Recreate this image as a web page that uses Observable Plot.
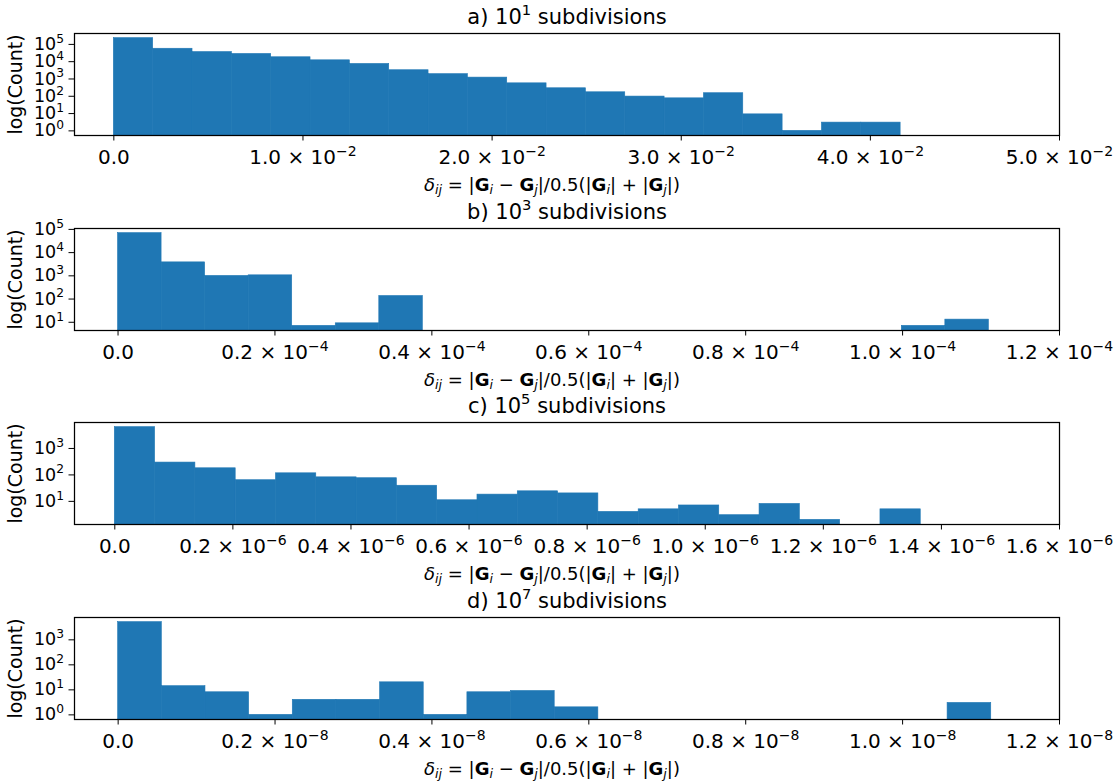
<!DOCTYPE html>
<html>
<head>
<meta charset="utf-8">
<script src="https://cdn.jsdelivr.net/npm/d3@7"></script>
<script src="https://cdn.jsdelivr.net/npm/@observablehq/plot@0.6"></script>
<style>
  body { margin: 0; background: white; }
  #chart { position: relative; width: 1119px; height: 784px; background: white; }
  #chart > div { position: absolute; left: 0; }
</style>
</head>
<body>
<div id="chart"></div>
<script>
// Histograms of the relative deviation delta_ij for four subdivision levels.
// Each histogram has 20 equal bins from 0 to its upper range value.
const panelTitles = [
  "a) 10^{1} subdivisions",
  "b) 10^{3} subdivisions",
  "c) 10^{5} subdivisions",
  "d) 10^{7} subdivisions"
];

const binUpper = [0.0416, 1.11e-4, 1.365e-6, 1.113e-8];

const countsA = [230000, 56000, 36000, 28000, 18000, 12000, 7400, 3200, 1900, 1200,
                 560, 290, 170, 96, 76, 150, 9, 1, 3, 3];
const countsB = [69000, 3800, 990, 1050, 7, 9, 135, 0, 0, 0,
                 0, 0, 0, 0, 0, 0, 0, 0, 7, 13];
const countsC = [6400, 293, 178, 63, 115, 81, 75, 39, 11, 18,
                 24, 20, 4, 5, 7, 3, 8, 2, 0, 5];
const countsD = [5100, 14, 8, 1, 4, 4, 20, 1, 8, 9,
                 2, 0, 0, 0, 0, 0, 0, 0, 0, 3];

const xTicksA = [0, 0.01, 0.02, 0.03, 0.04, 0.05];
const xTickLabelsA = ["0.0", "1.0 × 10^{−2}", "2.0 × 10^{−2}", "3.0 × 10^{−2}", "4.0 × 10^{−2}", "5.0 × 10^{−2}"];
const xTicksB = [0, 0.2e-4, 0.4e-4, 0.6e-4, 0.8e-4, 1.0e-4, 1.2e-4];
const xTickLabelsB = ["0.0", "0.2 × 10^{−4}", "0.4 × 10^{−4}", "0.6 × 10^{−4}", "0.8 × 10^{−4}", "1.0 × 10^{−4}", "1.2 × 10^{−4}"];
const xTicksC = [0, 0.2e-6, 0.4e-6, 0.6e-6, 0.8e-6, 1.0e-6, 1.2e-6, 1.4e-6, 1.6e-6];
const xTickLabelsC = ["0.0", "0.2 × 10^{−6}", "0.4 × 10^{−6}", "0.6 × 10^{−6}", "0.8 × 10^{−6}", "1.0 × 10^{−6}", "1.2 × 10^{−6}", "1.4 × 10^{−6}", "1.6 × 10^{−6}"];
const xTicksD = [0, 0.2e-8, 0.4e-8, 0.6e-8, 0.8e-8, 1.0e-8, 1.2e-8];
const xTickLabelsD = ["0.0", "0.2 × 10^{−8}", "0.4 × 10^{−8}", "0.6 × 10^{−8}", "0.8 × 10^{−8}", "1.0 × 10^{−8}", "1.2 × 10^{−8}"];

const yTicksA = [1, 10, 100, 1e3, 1e4, 1e5];
const yTickLabelsA = ["10^{0}", "10^{1}", "10^{2}", "10^{3}", "10^{4}", "10^{5}"];
const yTicksB = [10, 100, 1e3, 1e4, 1e5];
const yTickLabelsB = ["10^{1}", "10^{2}", "10^{3}", "10^{4}", "10^{5}"];
const yTicksC = [10, 100, 1e3];
const yTickLabelsC = ["10^{1}", "10^{2}", "10^{3}"];
const yTicksD = [1, 10, 100, 1e3];
const yTickLabelsD = ["10^{0}", "10^{1}", "10^{2}", "10^{3}"];

const yLabel = "log(Count)";

// x label: δ_ij = |G_i − G_j| / 0.5(|G_i| + |G_j|)
const xLabelParts = [
  {t: "δ", it: true}, {t: "ij", it: true, sub: true},
  {t: " = |"}, {t: "G", bf: true}, {t: "i", it: true, sub: true},
  {t: " − "}, {t: "G", bf: true}, {t: "j", it: true, sub: true},
  {t: "|/0.5(|"}, {t: "G", bf: true}, {t: "i", it: true, sub: true},
  {t: "| + |"}, {t: "G", bf: true}, {t: "j", it: true, sub: true},
  {t: "|)"}
];
const xLabelPlain = xLabelParts.map(p => p.t).join("");

const panels = [
  {title: panelTitles[0], counts: countsA, upper: binUpper[0], xt: xTicksA, xl: xTickLabelsA, yt: yTicksA, yl: yTickLabelsA},
  {title: panelTitles[1], counts: countsB, upper: binUpper[1], xt: xTicksB, xl: xTickLabelsB, yt: yTicksB, yl: yTickLabelsB},
  {title: panelTitles[2], counts: countsC, upper: binUpper[2], xt: xTicksC, xl: xTickLabelsC, yt: yTicksC, yl: yTickLabelsC},
  {title: panelTitles[3], counts: countsD, upper: binUpper[3], xt: xTicksD, xl: xTickLabelsD, yt: yTicksD, yl: yTickLabelsD}
];

const panelTops = [0, 195, 389, 584];
const blue = "#1f77b4";

// Turn "^{..}" markup into superscript tspans, and the x label into styled tspans.
function richText(svg) {
  d3.select(svg).selectAll("text").each(function () {
    const s = this.textContent;
    const el = d3.select(this);
    if (s === xLabelPlain) {
      el.text("");
      let shift = 0;
      for (const p of xLabelParts) {
        const ts = el.append("tspan").text(p.t);
        if (p.it) ts.attr("font-style", "italic");
        if (p.bf) ts.attr("font-weight", "bold");
        if (p.sub) {
          if (!shift) ts.attr("dy", "0.25em");
          ts.style("font-size", "0.7em");
          shift = 0.175;
        } else if (shift) {
          ts.attr("dy", `${-shift}em`);
          shift = 0;
        }
      }
    } else if (s.includes("^{")) {
      el.text("");
      const re = /\^\{([^}]*)\}/g;
      let last = 0, m, raised = false;
      while ((m = re.exec(s)) !== null) {
        if (m.index > last) {
          const ts = el.append("tspan").text(s.slice(last, m.index));
          if (raised) { ts.attr("dy", "0.42em"); raised = false; }
        }
        el.append("tspan").text(m[1]).style("font-size", "0.7em").attr("dy", "-0.6em");
        raised = true;
        last = re.lastIndex;
      }
      if (last < s.length) {
        const ts = el.append("tspan").text(s.slice(last));
        if (raised) ts.attr("dy", "0.42em");
      }
    }
  });
}

function drawPanel(p) {
  const n = p.counts.length;
  const bins = p.counts
    .map((c, i) => ({x1: i * p.upper / n, x2: (i + 1) * p.upper / n, count: c}))
    .filter(d => d.count > 0);
  const positive = p.counts.filter(c => c > 0);
  const lo = Math.log10(d3.min(positive));
  const hi = Math.log10(d3.max(positive));
  const pad = 0.05 * (hi - lo);
  const yDomain = [10 ** (lo - pad), 10 ** (hi + pad)];
  const xDomain = [-0.05 * p.upper, p.xt[p.xt.length - 1]];
  const xFmt = new Map(p.xt.map((t, i) => [t, p.xl[i]]));
  const yFmt = new Map(p.yt.map((t, i) => [t, p.yl[i]]));

  return Plot.plot({
    width: 1119,
    height: 195,
    marginLeft: 74,
    marginRight: 60,
    marginTop: 33,
    marginBottom: 60,
    style: "font-family: 'DejaVu Sans', sans-serif; font-size: 20px; color: black; background: transparent; overflow: visible;",
    x: {type: "linear", domain: xDomain},
    y: {type: "log", domain: yDomain},
    marks: [
      Plot.rectY(bins, {x1: "x1", x2: "x2", y1: () => yDomain[0], y2: "count", fill: blue, stroke: blue, strokeWidth: 0.6}),
      Plot.frame({stroke: "black", strokeWidth: 1.25}),
      Plot.axisX({ticks: p.xt, tickFormat: d => xFmt.get(d), tickSize: 5.5, tickPadding: 9, label: null, stroke: "black", fill: "black", fontSize: 20}),
      Plot.axisY({ticks: p.yt, tickFormat: d => yFmt.get(d), tickSize: 5.5, tickPadding: 5, label: null, stroke: "black", fill: "black", fontSize: 17.5}),
      Plot.text([p.title], {text: d => d, frameAnchor: "top", textAnchor: "middle", lineAnchor: "bottom", dy: -10, fontSize: 21, fill: "black"}),
      Plot.text([yLabel], {text: d => d, frameAnchor: "left", textAnchor: "middle", rotate: -90, lineAnchor: "bottom", dx: -53, fontSize: 19, fill: "black"}),
      Plot.text([xLabelPlain], {text: d => d, frameAnchor: "bottom", textAnchor: "middle", lineAnchor: "bottom", dy: 55, dx: -15, fontSize: 18, fill: "black"})
    ]
  });
}

const chart = document.getElementById("chart");
panels.forEach((p, i) => {
  const holder = document.createElement("div");
  holder.style.top = `${panelTops[i]}px`;
  const svg = drawPanel(p);
  richText(svg);
  holder.appendChild(svg);
  chart.appendChild(holder);
});
</script>
</body>
</html>
